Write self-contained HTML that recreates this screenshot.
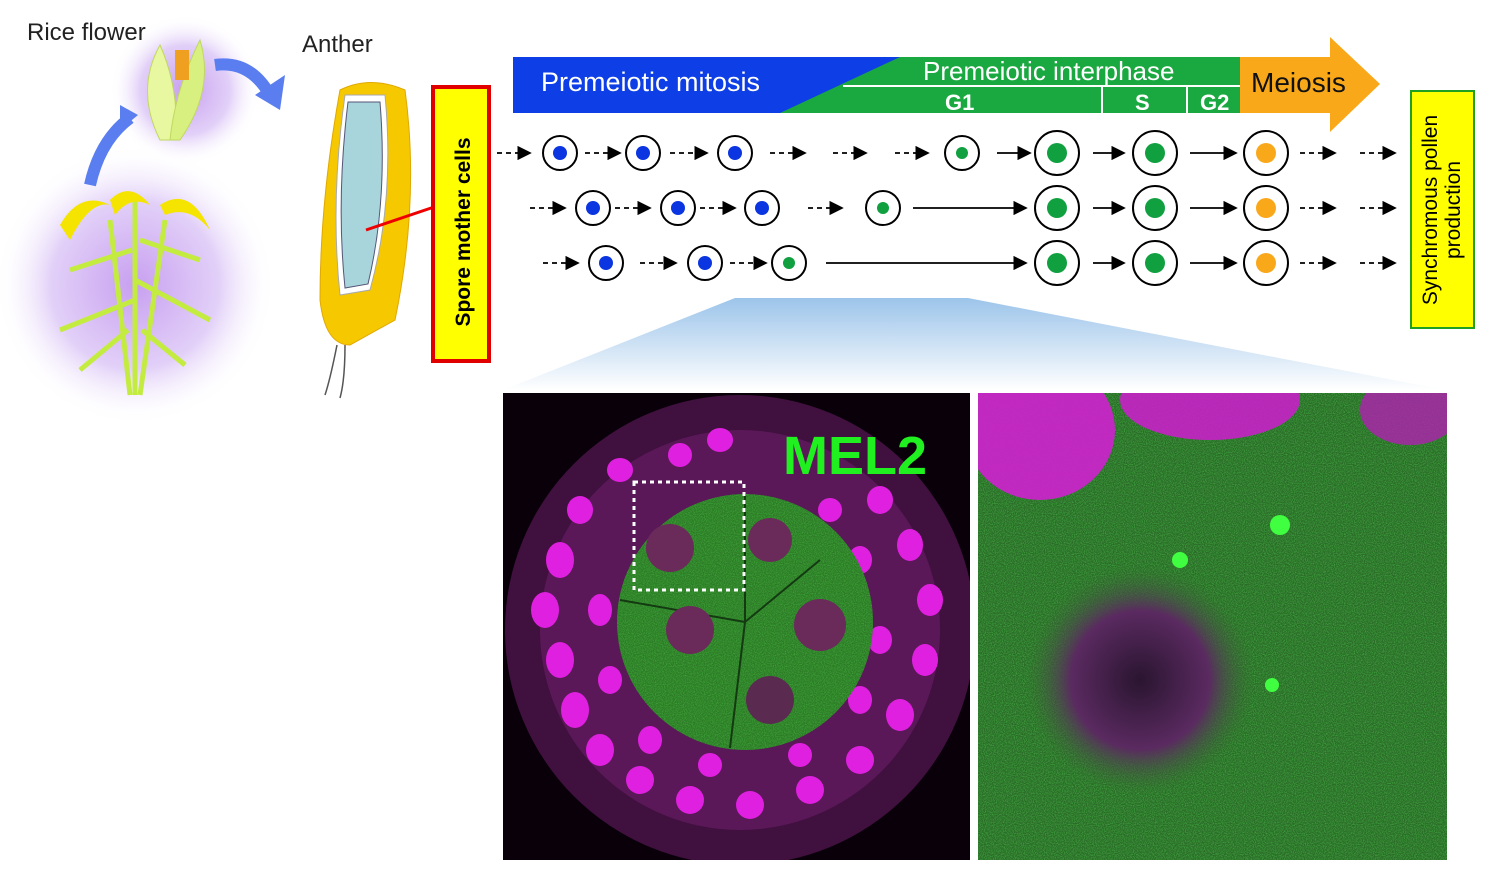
<!DOCTYPE html>
<html><head><meta charset="utf-8"><style>
html,body{margin:0;padding:0;background:#fff;}
svg{display:block;font-family:"Liberation Sans",sans-serif;}
</style></head><body>
<svg width="1490" height="878" viewBox="0 0 1490 878" xmlns="http://www.w3.org/2000/svg">
<defs>
<radialGradient id="glow" cx="50%" cy="50%" r="50%"><stop offset="0" stop-color="#c8a0f0"/><stop offset="0.6" stop-color="#e2d0f8"/><stop offset="1" stop-color="#fff" stop-opacity="0"/></radialGradient>
<linearGradient id="fan" x1="0" y1="0" x2="0" y2="1"><stop offset="0" stop-color="#9cc4ea"/><stop offset="1" stop-color="#fff"/></linearGradient>
<radialGradient id="dark" cx="50%" cy="50%" r="50%"><stop offset="0" stop-color="#2a1530"/><stop offset="0.6" stop-color="#5a2a60"/><stop offset="1" stop-color="#3a6a30" stop-opacity="0"/></radialGradient>
<filter id="noise" x="0" y="0" width="1" height="1" filterUnits="objectBoundingBox"><feTurbulence type="fractalNoise" baseFrequency="0.9" numOctaves="2" seed="3"/><feColorMatrix values="0 0 0 0 0.1  0 0 0 0 0.8  0 0 0 0 0.1  0 0 0 1.4 -0.5"/></filter>
<clipPath id="cl"><rect x="503" y="393" width="467" height="467"/></clipPath>
<clipPath id="cr"><rect x="978" y="393" width="469" height="467"/></clipPath>
<clipPath id="cc"><circle cx="745" cy="622" r="128"/></clipPath>
<marker id="ah" markerWidth="8" markerHeight="8" refX="7" refY="4" orient="auto"><path d="M0,0 L8,4 L0,8 Z" fill="#000"/></marker>
</defs>

<circle cx="135" cy="285" r="140" fill="url(#glow)"/>
<circle cx="185" cy="90" r="75" fill="url(#glow)"/>
<text x="27" y="40" font-size="24" fill="#222">Rice flower</text>
<text x="302" y="52" font-size="24" fill="#222">Anther</text>
<g stroke="#c4ec40" stroke-width="5" fill="none">
<path d="M135,395 L135,200"/><path d="M130,395 L110,220"/><path d="M140,395 L165,220"/>
<path d="M135,300 L60,330"/><path d="M135,280 L210,320"/><path d="M132,250 L70,270"/><path d="M140,240 L200,260"/>
<path d="M128,330 L80,370"/><path d="M142,330 L185,365"/>
</g>
<g fill="#f4e400">
<path d="M60,225 Q80,190 110,205 Q90,200 70,240Z"/><path d="M160,205 Q190,185 210,230 Q190,205 165,215Z"/>
<path d="M110,200 Q130,180 150,205 Q130,195 115,215Z"/>
</g>
<path d="M90,185 Q100,140 130,118" stroke="#5a7ef0" stroke-width="12" fill="none"/>
<path d="M120,105 L138,115 L120,130Z" fill="#5a7ef0"/>
<path d="M215,65 Q250,60 270,95" stroke="#5a7ef0" stroke-width="12" fill="none"/>
<path d="M255,95 L285,75 L280,110Z" fill="#5a7ef0"/>
<path d="M160,140 Q135,90 160,45 Q180,90 175,140Z" fill="#e8f8a0" stroke="#c0d860"/>
<path d="M180,140 Q215,90 200,40 Q175,90 170,140Z" fill="#d8f080" stroke="#c0d860"/>
<rect x="175" y="50" width="14" height="30" fill="#f0a020"/>
<path d="M340,90 Q320,200 320,300 Q325,345 350,345 L395,320 Q420,200 405,90 Q370,75 340,90Z" fill="#f6c800" stroke="#e0a800"/>
<path d="M345,95 Q330,200 340,295 L370,290 Q395,200 385,95Z" fill="#fff" stroke="#aaa"/>
<path d="M348,102 Q336,200 345,288 L368,284 Q388,200 380,102Z" fill="#a8d4dc" stroke="#557" stroke-width="1"/>
<path d="M337,345 Q330,380 325,395 M345,345 Q345,380 340,398" stroke="#555" stroke-width="1.5" fill="none"/>
<path d="M366,230 L440,205" stroke="#e00" stroke-width="3"/>
<rect x="433" y="87" width="56" height="274" fill="#ffff00" stroke="#e00000" stroke-width="4"/>
<text transform="translate(470,232) rotate(-90)" text-anchor="middle" font-size="21" font-weight="bold" fill="#000">Spore mother cells</text>

<rect x="513" y="57" width="400" height="56" fill="#0e3ee6"/>
<path d="M780,113 L900,57 L1245,57 L1245,113Z" fill="#1aa840"/>
<path d="M1240,57 L1330,57 L1330,37 L1380,84 L1330,132 L1330,113 L1240,113Z" fill="#f9a81a"/>
<text x="541" y="91" font-size="27" fill="#fff">Premeiotic mitosis</text>
<text x="923" y="80" font-size="26" fill="#fff">Premeiotic interphase</text>
<line x1="843" y1="86" x2="1240" y2="86" stroke="#fff" stroke-width="2"/>
<line x1="1102" y1="86" x2="1102" y2="113" stroke="#fff" stroke-width="2"/>
<line x1="1187" y1="86" x2="1187" y2="113" stroke="#fff" stroke-width="2"/>
<text x="945" y="110" font-size="22" font-weight="bold" fill="#fff">G1</text>
<text x="1135" y="110" font-size="22" font-weight="bold" fill="#fff">S</text>
<text x="1200" y="110" font-size="22" font-weight="bold" fill="#fff">G2</text>
<text x="1251" y="92" font-size="28" fill="#111">Meiosis</text>

<g stroke="#000" stroke-width="1.8" fill="none">
<g stroke-dasharray="5,4" marker-end="url(#ah)">
<line x1="497" y1="153" x2="530" y2="153"/><line x1="585" y1="153" x2="620" y2="153"/><line x1="670" y1="153" x2="707" y2="153"/>
<line x1="770" y1="153" x2="805" y2="153"/><line x1="833" y1="153" x2="866" y2="153"/><line x1="895" y1="153" x2="928" y2="153"/>
<line x1="1300" y1="153" x2="1335" y2="153"/><line x1="1360" y1="153" x2="1395" y2="153"/>
<line x1="530" y1="208" x2="565" y2="208"/><line x1="615" y1="208" x2="650" y2="208"/><line x1="700" y1="208" x2="735" y2="208"/>
<line x1="808" y1="208" x2="842" y2="208"/><line x1="1300" y1="208" x2="1335" y2="208"/><line x1="1360" y1="208" x2="1395" y2="208"/>
<line x1="543" y1="263" x2="578" y2="263"/><line x1="640" y1="263" x2="676" y2="263"/><line x1="730" y1="263" x2="766" y2="263"/>
<line x1="1300" y1="263" x2="1335" y2="263"/><line x1="1360" y1="263" x2="1395" y2="263"/>
</g>
<g marker-end="url(#ah)">
<line x1="997" y1="153" x2="1030" y2="153"/><line x1="1093" y1="153" x2="1124" y2="153"/><line x1="1190" y1="153" x2="1236" y2="153"/>
<line x1="913" y1="208" x2="1026" y2="208"/><line x1="1093" y1="208" x2="1124" y2="208"/><line x1="1190" y1="208" x2="1236" y2="208"/>
<line x1="826" y1="263" x2="1026" y2="263"/><line x1="1093" y1="263" x2="1124" y2="263"/><line x1="1190" y1="263" x2="1236" y2="263"/>
</g>
</g>
<g stroke="#000" stroke-width="2" fill="#fff">
<circle cx="560" cy="153" r="17"/><circle cx="643" cy="153" r="17"/><circle cx="735" cy="153" r="17"/><circle cx="962" cy="153" r="17"/>
<circle cx="593" cy="208" r="17"/><circle cx="678" cy="208" r="17"/><circle cx="762" cy="208" r="17"/><circle cx="883" cy="208" r="17"/>
<circle cx="606" cy="263" r="17"/><circle cx="705" cy="263" r="17"/><circle cx="789" cy="263" r="17"/>
<circle cx="1057" cy="153" r="22"/><circle cx="1155" cy="153" r="22"/><circle cx="1266" cy="153" r="22"/>
<circle cx="1057" cy="208" r="22"/><circle cx="1155" cy="208" r="22"/><circle cx="1266" cy="208" r="22"/>
<circle cx="1057" cy="263" r="22"/><circle cx="1155" cy="263" r="22"/><circle cx="1266" cy="263" r="22"/>
</g>
<g fill="#0a35e0">
<circle cx="560" cy="153" r="7"/><circle cx="643" cy="153" r="7"/><circle cx="735" cy="153" r="7"/>
<circle cx="593" cy="208" r="7"/><circle cx="678" cy="208" r="7"/><circle cx="762" cy="208" r="7"/>
<circle cx="606" cy="263" r="7"/><circle cx="705" cy="263" r="7"/>
</g>
<g fill="#10a040">
<circle cx="962" cy="153" r="6"/><circle cx="883" cy="208" r="6"/><circle cx="789" cy="263" r="6"/>
<circle cx="1057" cy="153" r="10"/><circle cx="1155" cy="153" r="10"/><circle cx="1057" cy="208" r="10"/><circle cx="1155" cy="208" r="10"/><circle cx="1057" cy="263" r="10"/><circle cx="1155" cy="263" r="10"/>
</g>
<g fill="#f9a81a"><circle cx="1266" cy="153" r="10"/><circle cx="1266" cy="208" r="10"/><circle cx="1266" cy="263" r="10"/></g>

<rect x="1411" y="91" width="63" height="237" fill="#ffff00" stroke="#20a020" stroke-width="2"/>
<text transform="translate(1437,210) rotate(-90)" text-anchor="middle" font-size="21" fill="#000">Synchromous pollen</text>
<text transform="translate(1460,210) rotate(-90)" text-anchor="middle" font-size="21" fill="#000">production</text>

<path d="M735,298 L968,298 L1445,390 L503,390Z" fill="url(#fan)"/>

<g clip-path="url(#cl)">
<rect x="503" y="393" width="467" height="467" fill="#0a000a"/>
<circle cx="740" cy="630" r="235" fill="#40103f"/>
<circle cx="740" cy="630" r="200" fill="#5a1858"/>
<g fill="#e020e0">
<ellipse cx="560" cy="560" rx="14" ry="18"/><ellipse cx="545" cy="610" rx="14" ry="18"/><ellipse cx="560" cy="660" rx="14" ry="18"/><ellipse cx="575" cy="710" rx="14" ry="18"/><ellipse cx="600" cy="750" rx="14" ry="16"/><ellipse cx="640" cy="780" rx="14" ry="14"/><ellipse cx="690" cy="800" rx="14" ry="14"/><ellipse cx="750" cy="805" rx="14" ry="14"/><ellipse cx="810" cy="790" rx="14" ry="14"/><ellipse cx="860" cy="760" rx="14" ry="14"/><ellipse cx="900" cy="715" rx="14" ry="16"/><ellipse cx="925" cy="660" rx="13" ry="16"/><ellipse cx="930" cy="600" rx="13" ry="16"/><ellipse cx="910" cy="545" rx="13" ry="16"/><ellipse cx="880" cy="500" rx="13" ry="14"/><ellipse cx="580" cy="510" rx="13" ry="14"/><ellipse cx="620" cy="470" rx="13" ry="12"/><ellipse cx="720" cy="440" rx="13" ry="12"/><ellipse cx="680" cy="455" rx="12" ry="12"/><ellipse cx="600" cy="610" rx="12" ry="16"/><ellipse cx="610" cy="680" rx="12" ry="14"/><ellipse cx="650" cy="740" rx="12" ry="14"/><ellipse cx="710" cy="765" rx="12" ry="12"/><ellipse cx="800" cy="755" rx="12" ry="12"/><ellipse cx="860" cy="700" rx="12" ry="14"/><ellipse cx="880" cy="640" rx="12" ry="14"/><ellipse cx="860" cy="560" rx="12" ry="14"/><ellipse cx="830" cy="510" rx="12" ry="12"/>
</g>
<circle cx="745" cy="622" r="128" fill="#2d7a26"/>
<g clip-path="url(#cc)"><rect x="617" y="494" width="256" height="256" filter="url(#noise)" opacity="0.6"/></g>
<line x1="745" y1="622" x2="745" y2="494" stroke="#143a12" stroke-width="2"/>
<line x1="745" y1="622" x2="620" y2="600" stroke="#143a12" stroke-width="2"/>
<line x1="745" y1="622" x2="820" y2="560" stroke="#143a12" stroke-width="2"/>
<line x1="745" y1="622" x2="730" y2="748" stroke="#143a12" stroke-width="2"/>
<circle cx="670" cy="548" r="24" fill="#6a2a5a"/><circle cx="690" cy="630" r="24" fill="#6a2a5a"/><circle cx="820" cy="625" r="26" fill="#6a2a5a"/><circle cx="770" cy="540" r="22" fill="#6a2a5a"/><circle cx="770" cy="700" r="24" fill="#5a2a50"/>
<rect x="634" y="482" width="110" height="108" fill="none" stroke="#fff" stroke-width="3" stroke-dasharray="4,4"/>
<text x="783" y="474" font-size="54" font-weight="bold" fill="#20f020">MEL2</text>
</g>

<g clip-path="url(#cr)">
<rect x="978" y="393" width="469" height="467" fill="#2a6a28"/>
<rect x="978" y="393" width="469" height="467" filter="url(#noise)" opacity="0.7"/>
<ellipse cx="1040" cy="430" rx="75" ry="70" fill="#d020d0" opacity="0.9"/>
<ellipse cx="1210" cy="400" rx="90" ry="40" fill="#c820c8" opacity="0.9"/>
<ellipse cx="1410" cy="410" rx="50" ry="35" fill="#b020b0" opacity="0.8"/>
<circle cx="1140" cy="680" r="115" fill="url(#dark)"/>
<circle cx="1280" cy="525" r="10" fill="#40ff40"/><circle cx="1180" cy="560" r="8" fill="#40ff40"/><circle cx="1272" cy="685" r="7" fill="#40ff40"/>
</g>
</svg>
</body></html>
